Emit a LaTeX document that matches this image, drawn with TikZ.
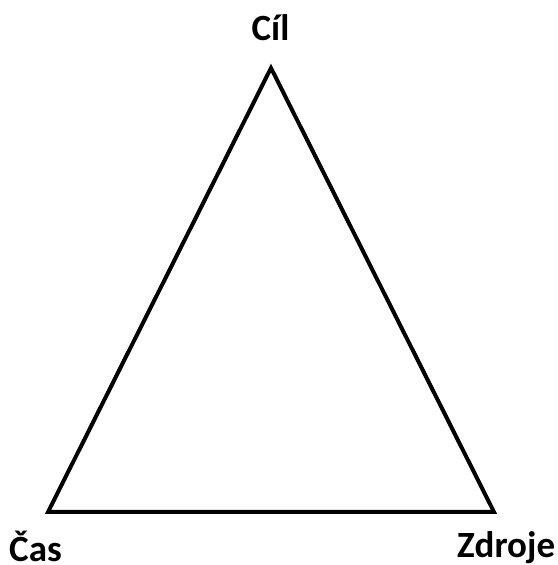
\documentclass[tikz,border=0pt]{standalone}
\usepackage{fontspec}
\setmainfont{Carlito}
\begin{document}
\begin{tikzpicture}[x=1pt,y=1pt,
  lbl/.style={font=\fontsize{37}{40}\selectfont\bfseries, inner sep=0pt},
  edge/.style={line width=4pt, line join=miter}]
\useasboundingbox (0,0) rectangle (557,565);
\coordinate (top) at (271,497);
\coordinate (left) at (48,53);
\coordinate (right) at (494,53);
\draw[edge] (top) -- (left) -- (right) -- cycle;
\node[lbl, anchor=base] (cil) at (270.5,524) {Cíl};
\node[lbl, anchor=base west] (cas) at (9,3) {Čas};
\node[lbl, anchor=base west] (zdroje) at (457,7) {Zdroje};
\end{tikzpicture}
\end{document}
